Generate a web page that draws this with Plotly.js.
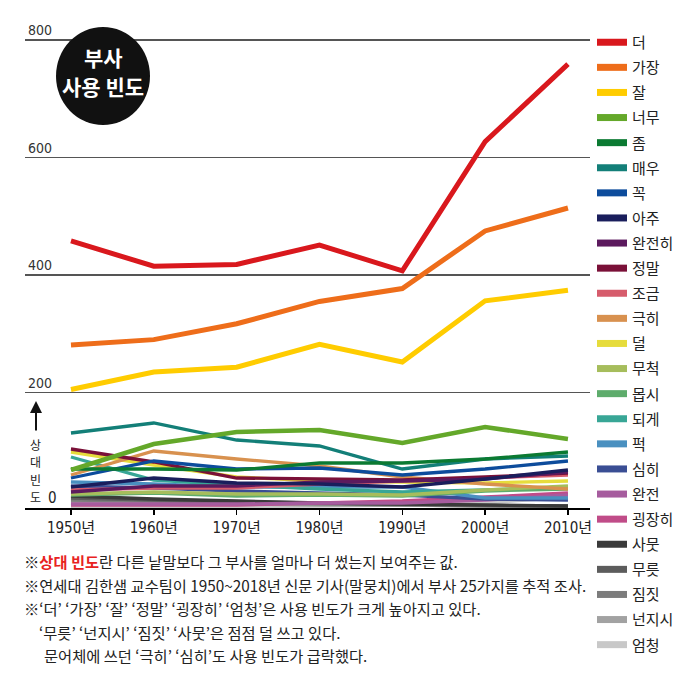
<!DOCTYPE html>
<html><head><meta charset="utf-8">
<script src="https://cdn.plot.ly/plotly-3.0.1.min.js"></script>
<style>html,body{margin:0;padding:0;background:#fff;} #chart{width:700px;height:679px;}</style>
</head><body><div id="chart"></div>
<script>
// ---------- DATA ----------
const years = [1950, 1960, 1970, 1980, 1990, 2000, 2010];
const yearLabels = ['1950년', '1960년', '1970년', '1980년', '1990년', '2000년', '2010년'];
const gridValues = [200, 400, 600, 800];
const gridLabels = ['200', '400', '600', '800'];

// upper panel (absolute scale 200-800)
const upperNames = ['더', '가장', '잘'];
const deo    = [458, 415, 418, 451, 407, 627, 759];
const gajang = [281, 290, 317, 355, 377, 475, 514];
const jal    = [205, 235, 243, 282, 252, 356, 374];

// lower panel (relative frequency, schematic scale)
const lowerNames = ['너무','좀','매우','꼭','아주','완전히','정말','조금','극히','덜','무척','몹시','되게','퍽','심히','완전','굉장히','사뭇','무릇','짐짓','넌지시','엄청'];
const neomu      = [38, 64, 76, 78, 65, 81, 69];
const jom        = [39, 39, 38, 45, 45, 49, 56];
const maeu       = [75, 85, 68, 62, 39, 49, 52];
const kkok       = [30, 47, 39, 40, 33, 39, 47];
const aju        = [21, 30, 25, 24, 21, 29, 38];
const wanjeonhi  = [16, 22, 22, 26, 27, 29, 36];
const jeongmal   = [59, 46, 30, 29, 28, 31, 35];
const jogeum     = [18, 20, 20, 24, 27, 30, 33];
const geukhi     = [33, 57, 49, 42, 31, 24, 19];
const deol       = [56, 43, 31, 27, 26, 25, 27];
const mucheok    = [14, 16, 14, 14, 13, 18, 22];
const mopsi      = [13, 15, 12, 13, 12, 17, 19];
const doege      = [51, 28, 23, 19, 16, 18, 21];
const peok       = [26, 24, 21, 21, 21, 10, 10];
const simhi      = [22, 20, 17, 15, 13, 9, 8];
const wanjeon    = [4, 4, 4, 5, 5, 8, 13];
const goengjanghi= [3, 3, 3, 5, 7, 11, 15];
const samut      = [12, 9, 7, 5, 4, 3, 2];
const mureut     = [10, 8, 6, 5, 4, 3, 2];
const jimjit     = [8, 7, 5, 4, 3, 2, 1];
const neonjisi   = [6, 5, 4, 3, 3, 2, 1];
const eomcheong  = [1, 1, 1, 2, 3, 5, 11];

const notes = [
  '※<span style="color:#e8231f"><b>상대 빈도</b></span>란 다른 낱말보다 그 부사를 얼마나 더 썼는지 보여주는 값.',
  '※연세대 김한샘 교수팀이 1950~2018년 신문 기사(말뭉치)에서 부사 25가지를 추적 조사.',
  '※‘더’ ‘가장’ ‘잘’ ‘정말’ ‘굉장히’ ‘엄청’은 사용 빈도가 크게 높아지고 있다.',
  '‘무릇’ ‘넌지시’ ‘짐짓’ ‘사뭇’은 점점 덜 쓰고 있다.',
  '문어체에 쓰던 ‘극히’ ‘심히’도 사용 빈도가 급락했다.'
];

// ---------- STYLE ----------
const upperValues = [deo, gajang, jal];
const upperColors = ['#d9181d', '#ee6d1a', '#ffcc00'];
const lowerValues = [neomu, jom, maeu, kkok, aju, wanjeonhi, jeongmal, jogeum, geukhi, deol, mucheok, mopsi, doege, peok, simhi, wanjeon, goengjanghi, samut, mureut, jimjit, neonjisi, eomcheong];
const lowerColors = ['#64a82a','#0b7a32','#137f78','#0d4c9c','#1a1e5c','#5c1a5e','#7a1038','#d65c6c','#d8914f','#e6dc3c','#a6bd5c','#5eac6c','#38a696','#4a90c0','#3a4e94','#a65c9e','#c04c88','#3a3a3a','#5c5c5c','#7c7c7c','#a2a2a2','#c8c8c8'];

const W = 700, H = 679, L = 25, R = 110, T = 12, B = 171;
const PW = W - L - R, PH = H - T - B;
const px = x => (x - L) / PW;
const py = y => (H - B - y) / PH;
const split = py(396.5);
const unitsPerPx = 200 / 117.4;            // upper scale: 200 units = 117.4 px
const upperTop = 800 + (40 - T) * unitsPerPx;     // 800 sits at pixel 40
const upperBottom = 200 - (396.5 - 392.5) * unitsPerPx; // 200 sits at pixel 392.5

const traces = [];
for (let i = lowerNames.length - 1; i >= 0; i--) {
  traces.push({
    x: years, y: lowerValues[i], type: 'scatter', mode: 'lines',
    name: lowerNames[i], xaxis: 'x', yaxis: 'y', showlegend: false,
    line: {color: lowerColors[i], width: i === 0 ? 4.5 : 3.3}, hoverinfo: 'name+y'
  });
}
for (let i = upperNames.length - 1; i >= 0; i--) {
  traces.push({
    x: years, y: upperValues[i], type: 'scatter', mode: 'lines',
    name: upperNames[i], xaxis: 'x', yaxis: 'y2', showlegend: false,
    line: {color: upperColors[i], width: 5}, hoverinfo: 'name+y'
  });
}
const allNames = upperNames.concat(lowerNames);
const allColors = upperColors.concat(lowerColors);
allNames.forEach((n, i) => {
  traces.push({
    x: [null], y: [null], type: 'scatter', mode: 'lines', name: n,
    legendgroup: 'g' + i, showlegend: true, xaxis: 'x', yaxis: 'y',
    line: {color: allColors[i], width: 7}
  });
});

const narrow = 'Liberation Sans Narrow, Arial Narrow, DejaVu Sans Condensed, Noto Sans CJK KR, sans-serif';
const kr = 'Noto Sans CJK KR, sans-serif';

const annotations = [];
annotations.push({xref:'paper', yref:'paper', x: px(103), y: py(57), text: '<b>부사</b>', showarrow:false,
  font:{family:kr, size:21, color:'#fff'}, xanchor:'center', yanchor:'middle'});
annotations.push({xref:'paper', yref:'paper', x: px(103), y: py(86), text: '<b>사용 빈도</b>', showarrow:false,
  font:{family:kr, size:21, color:'#fff'}, xanchor:'center', yanchor:'middle'});
annotations.push({xref:'paper', yref:'paper', x: px(52), y: py(498), text: '0', showarrow:false,
  font:{family:narrow, size:15, color:'#222'}, xanchor:'center', yanchor:'middle'});
annotations.push({xref:'paper', yref:'paper', x: px(36), y: py(401), ax: 0, ay: 31, text: '', showarrow:true,
  arrowhead:2, arrowsize:1.2, arrowwidth:2, arrowcolor:'#111'});
Array.from('상대빈도').forEach((c, i) => {
  annotations.push({xref:'paper', yref:'paper', x: px(35), y: py(444 + i * 17.5), text: c, showarrow:false,
    font:{family:kr, size:12, color:'#222'}, xanchor:'center', yanchor:'middle'});
});
const noteX = [22, 22, 22, 37, 42];
notes.forEach((t, i) => {
  annotations.push({xref:'paper', yref:'paper', x: px(noteX[i]), y: py(561 + i * 23.5), text: t, showarrow:false,
    font:{family:kr, size:15.3, color:'#222'}, xanchor:'left', yanchor:'middle'});
});

const layout = {
  width: W, height: H,
  margin: {l: L, r: R, t: T, b: B, autoexpand: false},
  paper_bgcolor: '#fff', plot_bgcolor: '#fff',
  font: {family: kr, color: '#222'},
  showlegend: true,
  legend: {x: px(592), y: py(26), xanchor: 'left', yanchor: 'top', traceorder: 'grouped', maxheight: 670,
    tracegroupgap: 2.6, font: {family: kr, size: 15, color: '#222'}, bgcolor: 'rgba(0,0,0,0)', borderwidth: 0},
  xaxis: {range: [1944.45, 2012.66], tickvals: years, ticktext: yearLabels, showline: true, linecolor: '#000',
    linewidth: 2, ticks: 'outside', ticklen: 5, tickwidth: 1.5, tickcolor: '#000', showgrid: false, zeroline: false,
    tickfont: {family: narrow, size: 15, color: '#222'}, anchor: 'y', fixedrange: true},
  yaxis: {domain: [0, split], range: [0, 508 - 396.5], showgrid: false, showticklabels: false, zeroline: false,
    ticks: '', fixedrange: true},
  yaxis2: {domain: [split, 1], range: [upperBottom, upperTop], tickvals: gridValues, ticktext: gridLabels, showgrid: true,
    gridcolor: '#555', gridwidth: 1.3, ticklabelposition: 'inside top', ticks: '', zeroline: false, showline: false,
    tickfont: {family: narrow, size: 14, color: '#333'}, anchor: 'x', fixedrange: true},
  shapes: [{type: 'circle', xref: 'paper', yref: 'paper', x0: px(56), x1: px(150), y0: py(27), y1: py(125),
    fillcolor: '#111', line: {width: 0}, layer: 'above'}],
  annotations: annotations
};

Plotly.newPlot('chart', traces, layout, {displayModeBar: false, staticPlot: true});
</script></body></html>
